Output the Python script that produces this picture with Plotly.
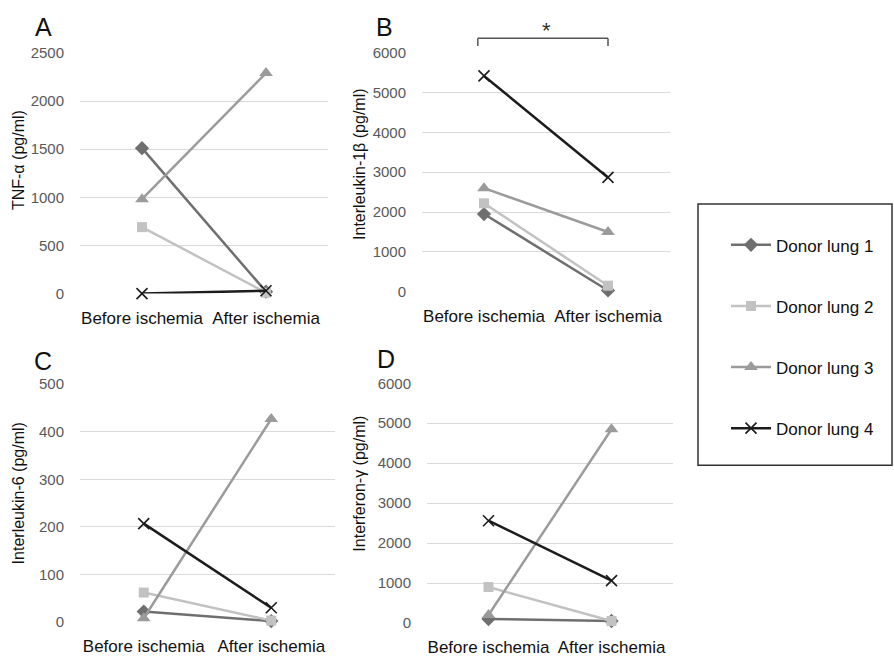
import plotly.graph_objects as go

W, H = 894, 670

categories = ["Before ischemia", "After ischemia"]
donors = ["Donor lung 1", "Donor lung 2", "Donor lung 3", "Donor lung 4"]

tnf_alpha = [[1510, 20], [690, 10], [980, 2290], [0, 30]]
il_1beta = [[1950, 30], [2220, 150], [2600, 1500], [5420, 2870]]
il_6 = [[22, 2], [62, 3], [8, 427], [207, 30]]
ifn_gamma = [[100, 50], [900, 50], [200, 4850], [2560, 1060]]

panel_letters = ["A", "B", "C", "D"]
y_titles = ["TNF-α (pg/ml)", "Interleukin-1β (pg/ml)", "Interleukin-6 (pg/ml)", "Interferon-γ (pg/ml)"]
y_max = [2500, 6000, 500, 6000]
y_step = [500, 1000, 100, 1000]

colors = ["#6f6f6f", "#c2c2c2", "#9b9b9b", "#1c1c1c"]
symbols = ["diamond", "square", "triangle-up", "x-thin"]
msizes = [11, 10, 12, 11]

# pixel boxes of plot areas: (left, right, top, bottom)
boxes = [(80, 328, 45, 292), (422, 670, 45, 290), (80, 335, 385, 629), (427, 673, 384, 630)]

FONT = "Liberation Sans"

fig = go.Figure()
datasets = [tnf_alpha, il_1beta, il_6, ifn_gamma]

for p, data in enumerate(datasets):
    ax = "" if p == 0 else str(p + 1)
    for d in range(4):
        sym = symbols[d]
        marker = dict(symbol=sym, size=msizes[d], color=colors[d])
        if sym == "x-thin":
            marker["line"] = dict(color=colors[d], width=1.6)
        fig.add_trace(go.Scatter(
            x=categories, y=data[d], mode="lines+markers",
            name=donors[d], legendgroup=donors[d], showlegend=(p == 0),
            line=dict(color=colors[d], width=2.5), marker=marker,
            xaxis="x" + ax, yaxis="y" + ax, cliponaxis=False,
        ))
    l, r, t, b = boxes[p]
    fig.layout["xaxis" + ax] = dict(
        domain=[l / W, r / W], anchor="y" + ax, type="category",
        categoryorder="array", categoryarray=categories, range=[-0.5, 1.5],
        showgrid=False, showline=False, zeroline=False,
        ticks="outside", ticklen=9, tickcolor="rgba(0,0,0,0)",
        tickfont=dict(family=FONT, size=17, color="#111111"),
    )
    fig.layout["yaxis" + ax] = dict(
        domain=[1 - b / H, 1 - t / H], anchor="x" + ax,
        range=[0, y_max[p]], dtick=y_step[p], tick0=0,
        showgrid=True, gridcolor="#d9d9d9", gridwidth=1,
        zeroline=False, showline=False, ticks="",
        ticklabelstandoff=15,
        tickfont=dict(family=FONT, size=15, color="#595959"),
    )

annotations = []
title_pos = [(18, 155), (360, 160), (18, 497), (360, 487)]
letter_pos = [(43, 18), (384, 18), (43, 361), (386, 359)]
for p in range(4):
    tx, ty = title_pos[p]
    annotations.append(dict(
        text=y_titles[p], x=tx / W, y=1 - ty / H, xref="paper", yref="paper",
        textangle=-90, showarrow=False, font=dict(family=FONT, size=16, color="#111111"),
        xanchor="center", yanchor="middle",
    ))
    lx, ly = letter_pos[p]
    annotations.append(dict(
        text=panel_letters[p], x=lx / W, y=1 - ly / H, xref="paper", yref="paper",
        showarrow=False, font=dict(family=FONT, size=25, color="#111111"),
        xanchor="center", yanchor="middle",
    ))

# significance bracket in panel B
annotations.append(dict(text="*", x=0.5, xref="x2", y=1 - 22 / H, yref="paper",
                        showarrow=False, font=dict(family=FONT, size=22, color="#333333"),
                        xanchor="center", yanchor="middle"))

shapes = [
    dict(type="line", xref="x2", yref="paper", x0=-0.05, x1=1.0, y0=1 - 30 / H, y1=1 - 30 / H,
         line=dict(color="#555555", width=1.5)),
    dict(type="line", xref="x2", yref="paper", x0=-0.05, x1=-0.05, y0=1 - 30 / H, y1=1 - 38 / H,
         line=dict(color="#555555", width=1.5)),
    dict(type="line", xref="x2", yref="paper", x0=1.0, x1=1.0, y0=1 - 30 / H, y1=1 - 38 / H,
         line=dict(color="#555555", width=1.5)),
    # legend frame
    dict(type="rect", xref="paper", yref="paper", x0=698 / W, x1=892 / W,
         y0=1 - 468 / H, y1=1 - 200 / H, line=dict(color="#333333", width=1.5)),
]

fig.update_layout(
    width=W, height=H, margin=dict(l=0, r=0, t=0, b=0),
    paper_bgcolor="white", plot_bgcolor="white",
    annotations=annotations, shapes=shapes,
    legend=dict(x=726 / W, y=1 - 224 / H, xanchor="left", yanchor="top",
                font=dict(family=FONT, size=17, color="#111111"),
                tracegroupgap=36, itemwidth=40, bgcolor="rgba(0,0,0,0)"),
    showlegend=True,
)

fig.write_html("out.html")
